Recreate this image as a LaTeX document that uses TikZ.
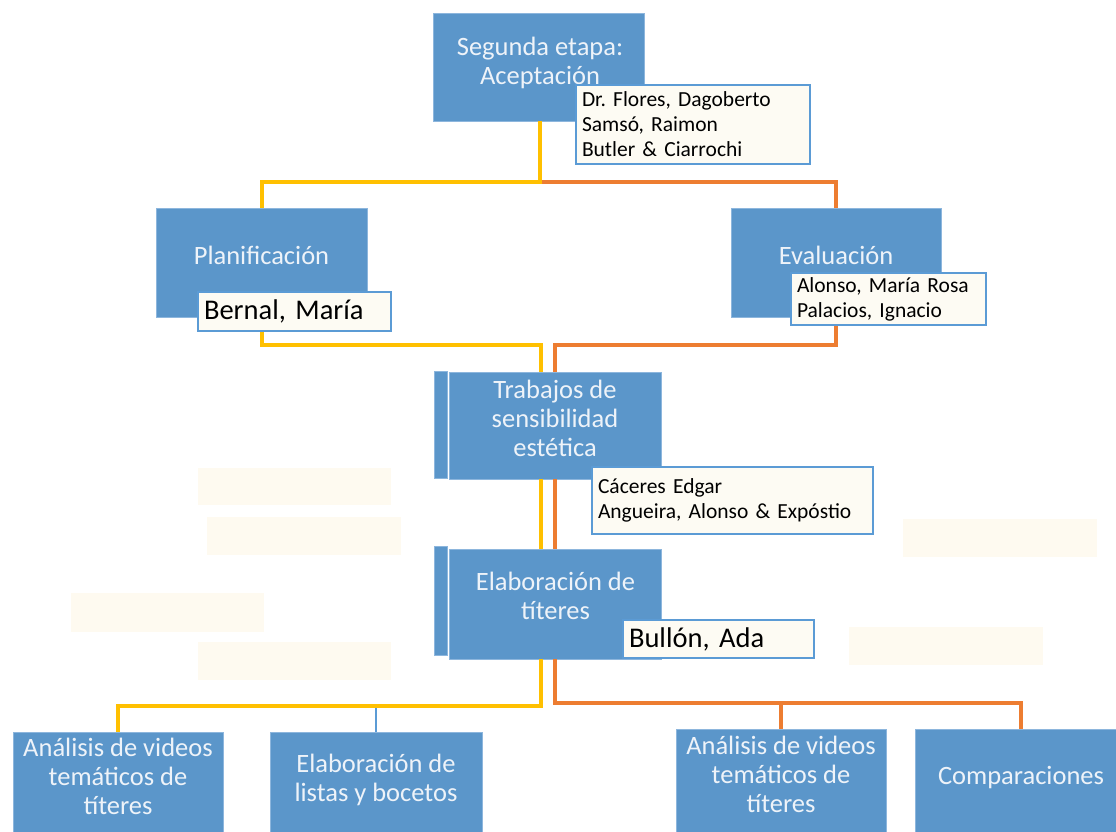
\documentclass[tikz,border=0pt]{standalone}
\usepackage{fontspec}
\setmainfont{Carlito}
\frenchspacing
\definecolor{boxblue}{HTML}{5B96CA}
\definecolor{edgeblue}{HTML}{8DB6DD}
\definecolor{annborder}{HTML}{5B9BD5}
\definecolor{annfill}{HTML}{FDFBF3}
\definecolor{lineyellow}{HTML}{FFC000}
\definecolor{lineorange}{HTML}{ED7D31}
\definecolor{boxtext}{HTML}{EEF3F9}
\definecolor{ghost}{HTML}{FEFAF0}
\begin{document}
\begin{tikzpicture}[x=1pt,y=-1pt,
  stage/.style={rectangle, fill=boxblue, draw=edgeblue, line width=0.8pt, inner sep=0pt},
  stagetext/.style={text=boxtext, align=center, font=\fontsize{26.5}{29}\selectfont, inner sep=0pt},
  ann/.style={rectangle, fill=annfill, draw=annborder, line width=1.8pt, align=left, inner xsep=6pt, inner ysep=0pt, font=\frenchspacing\fontsize{21.5}{25}\selectfont},
  annbig/.style={ann, font=\frenchspacing\fontsize{28.5}{32}\selectfont},
  yl/.style={draw=lineyellow, line width=4pt},
  ol/.style={draw=lineorange, line width=4pt},
  bl/.style={draw=annborder, line width=2pt},
  ghostbox/.style={rectangle, fill=ghost, draw=none, inner sep=0pt}
]
\useasboundingbox (0,0) rectangle (1116,832);
\clip (0,0) rectangle (1116,832);

% faint empty boxes
\node[ghostbox, minimum width=193, minimum height=37] (g1) at (294.5,486.5) {};
\node[ghostbox, minimum width=194, minimum height=38] (g2) at (304,536) {};
\node[ghostbox, minimum width=193, minimum height=39] (g3) at (167.5,612.5) {};
\node[ghostbox, minimum width=193, minimum height=38] (g4) at (294.5,661) {};
\node[ghostbox, minimum width=194, minimum height=38] (g5) at (1000,538) {};
\node[ghostbox, minimum width=194, minimum height=38] (g6) at (946,646) {};

% stage boxes
\node[stage, minimum width=211, minimum height=108] (top) at (538.5,67) {};
\node[stage, minimum width=211, minimum height=109] (plan) at (261.5,262.5) {};
\node[stage, minimum width=210, minimum height=109] (eval) at (836,262.5) {};
\node[stage, minimum width=13, minimum height=107] (trabside) at (440.5,424.5) {};
\node[stage, minimum width=212, minimum height=107] (trab) at (555,425.5) {};
\node[stage, minimum width=13, minimum height=109] (elabside) at (440.5,600.5) {};
\node[stage, minimum width=212, minimum height=110] (elab) at (555,604) {};
\node[stage, minimum width=210, minimum height=110] (b1) at (118,787) {};
\node[stage, minimum width=212, minimum height=110] (b2) at (376,787) {};
\node[stage, minimum width=210, minimum height=110] (b3) at (781,784) {};
\node[stage, minimum width=211, minimum height=110] (b4) at (1020.5,784) {};

% connectors
\coordinate (tj) at (540,182);
\draw[ol] (tj) -| (eval.north);
\draw[yl] (top.south -| tj) -- (tj) -| (plan.north);
\draw[yl] (plan.south) -- ++(0,28) -| ([xshift=-14pt]trab.north);
\draw[ol] (eval.south) -- ++(0,28) -| (trab.north);
\draw[yl] ([xshift=-14pt]trab.south) -- ([xshift=-14pt]elab.north);
\draw[ol] (trab.south) -- (elab.north);
\coordinate (oj) at (555,703);
\draw[ol] (elab.south) -- (oj) -| (b4.north);
\draw[ol] (oj -| b3.north) -- (b3.north);
\draw[bl] (b2.north) -- ++(0,-26);
\draw[yl] ([xshift=-14pt]elab.south) -- ++(0,47) -| (b1.north);

% stage texts
\node[stagetext] (toptext) at (540,63) {Segunda etapa:\\Aceptación};
\node[stagetext] (plantext) at (261.5,255) {Planificación};
\node[stagetext] (evaltext) at (836,255) {Evaluación};
\node[stagetext] (trabtext) at (555,418) {Trabajos de\\sensibilidad\\estética};
\node[stagetext] (elabtext) at (555.5,596) {Elaboración de\\títeres};
\node[stagetext] (b1text) at (118,776) {Análisis de videos\\temáticos de\\títeres};
\node[stagetext] (b2text) at (376,780) {Elaboración de\\listas y bocetos};
\node[stagetext] (b3text) at (781,774) {Análisis de videos\\temáticos de\\títeres};
\node[stagetext] (b4text) at (1021,778) {Comparaciones};

% annotations
\node[ann, text width=222, minimum height=79] (a1) at (693,124.5) {Dr. Flores, Dagoberto\\Samsó, Raimon\\Butler \& Ciarrochi};
\node[annbig, text width=181, minimum height=39] (a2) at (294.5,311.5) {Bernal, María};
\node[ann, text width=183, minimum height=52] (a3) at (888.5,299) {Alonso, María Rosa\\Palacios, Ignacio};
\node[ann, text width=269, minimum height=67] (a4) at (732.5,500.5) {Cáceres Edgar\\Angueira, Alonso \& Expóstio};
\node[annbig, text width=179, minimum height=38] (a5) at (718.5,639) {Bullón, Ada};
\end{tikzpicture}
\end{document}
